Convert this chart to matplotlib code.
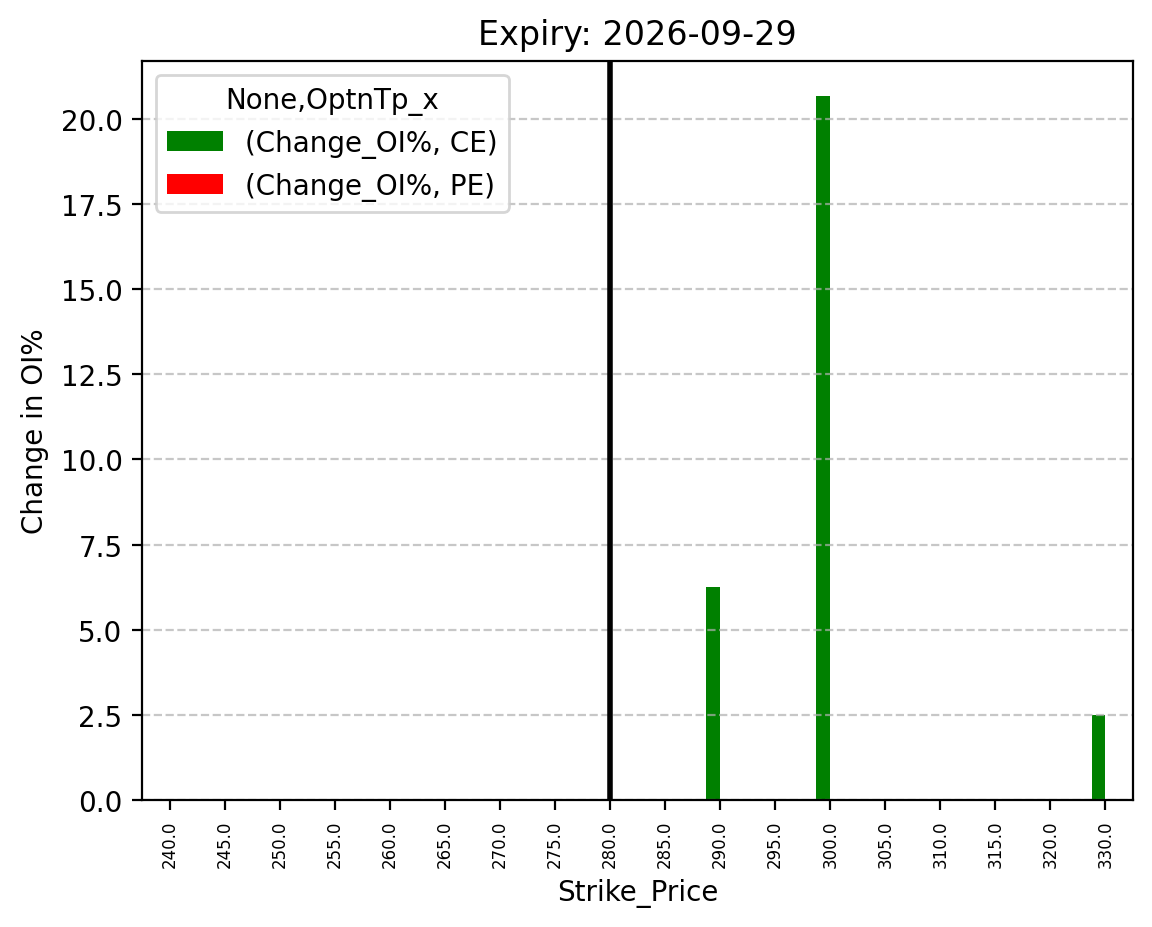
import pandas as pd
import numpy as np
import matplotlib
matplotlib.use('Agg')
import matplotlib.pyplot as plt

# strikes and change in OI% for calls / puts
strikes = [240.0, 245.0, 250.0, 255.0, 260.0, 265.0, 270.0, 275.0, 280.0,
           285.0, 290.0, 295.0, 300.0, 305.0, 310.0, 315.0, 320.0, 330.0]
ce_change = [0, 0, 0, 0, 0, 0, 0, 0, 0, 0, 6.25, 0, 20.67, 0, 0, 0, 0, 2.5]
pe_change = [0, 0, 0, 0, 0, 0, 0, 0, 0, 0, 0, 0, 0, 0, 0, 0, 0, 0]
spot_strike = 280.0
expiry = '2026-09-29'

cols = pd.MultiIndex.from_tuples([('Change_OI%', 'CE'), ('Change_OI%', 'PE')],
                                 names=[None, 'OptnTp_x'])
df = pd.DataFrame(np.column_stack([ce_change, pe_change]), columns=cols,
                  index=pd.Index(strikes, name='Strike_Price'))

fig = plt.figure(figsize=(5.76, 4.64), dpi=200)
ax = fig.add_axes([0.1233, 0.1369, 0.8602, 0.7963])
df.plot(kind='bar', ax=ax, color=['green', 'red'])

# mark the spot strike
ax.axvline(strikes.index(spot_strike), color='black', linewidth=2)

ax.set_title('Expiry: ' + expiry, fontsize=12)
ax.set_xlabel('Strike_Price')
ax.set_ylabel('Change in OI%')
ax.tick_params(axis='x', labelsize=6)
ax.grid(axis='y', linestyle='--', alpha=0.7)
ax.legend(loc='upper left', title='None,OptnTp_x')

fig.savefig('out.png', dpi=200)
